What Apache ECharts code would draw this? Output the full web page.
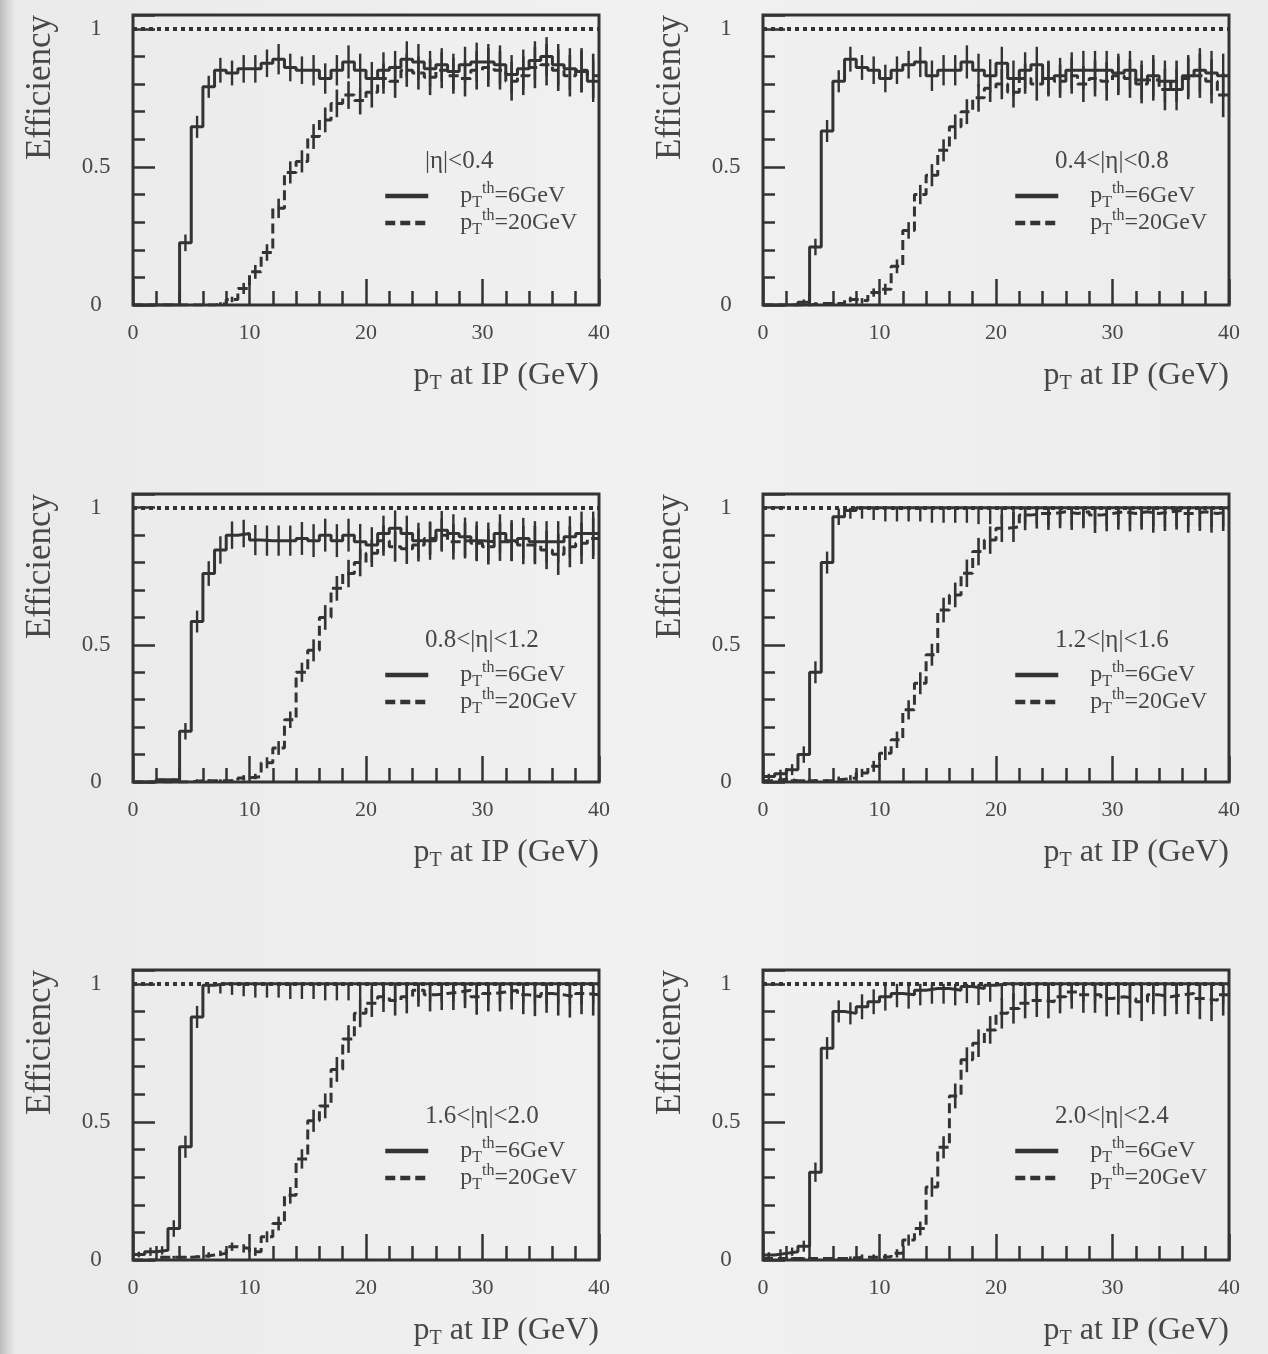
<!DOCTYPE html>
<html>
<head>
<meta charset="utf-8">
<script src="https://cdn.jsdelivr.net/npm/echarts@6/dist/echarts.min.js"></script>
<style>
html,body{margin:0;padding:0;background:#ededed;}
#chart{width:1268px;height:1354px;}
</style>
</head>
<body>
<div id="chart"></div>
<script>
// ---------------- DATA ----------------
const BIN_EDGES = [0,1,2,3,4,5,6,7,8,9,10,11,12,13,14,15,16,17,18,19,20,21,22,23,24,25,26,27,28,29,30,31,32,33,34,35,36,37,38,39,40];
const ETA_LABELS = ['|η|<0.4','0.4<|η|<0.8','0.8<|η|<1.2','1.2<|η|<1.6','1.6<|η|<2.0','2.0<|η|<2.4'];
const SERIES_NAMES = ['pTth=6GeV','pTth=20GeV'];
const LEGEND_SUFFIX = ['=6GeV','=20GeV'];
const REFERENCE_LEVEL = 1;
const Y_AXIS_TITLE = 'Efficiency';

// |eta|<0.4
const EFF6_ETA1  = [0,0,0,0,0.225,0.645,0.79,0.85,0.84,0.855,0.855,0.875,0.89,0.86,0.85,0.85,0.82,0.85,0.88,0.85,0.82,0.85,0.86,0.89,0.88,0.855,0.87,0.845,0.87,0.88,0.88,0.87,0.835,0.855,0.885,0.9,0.87,0.855,0.845,0.81];
const EFF20_ETA1 = [0,0,0,0,0,0,0,0.005,0.02,0.06,0.12,0.19,0.35,0.48,0.52,0.61,0.67,0.73,0.76,0.74,0.77,0.82,0.81,0.85,0.84,0.825,0.85,0.83,0.82,0.85,0.86,0.85,0.81,0.83,0.86,0.87,0.85,0.83,0.85,0.83];
const ERR6_ETA1  = [0,0,0,0,0.03,0.04,0.04,0.045,0.045,0.05,0.05,0.05,0.055,0.05,0.05,0.055,0.055,0.055,0.06,0.06,0.06,0.065,0.06,0.065,0.065,0.065,0.06,0.065,0.065,0.07,0.065,0.07,0.07,0.07,0.07,0.07,0.075,0.075,0.075,0.075];
const ERR20_ETA1 = [0,0,0,0,0,0,0,0.005,0.01,0.02,0.025,0.03,0.035,0.04,0.04,0.045,0.045,0.05,0.05,0.05,0.055,0.055,0.06,0.06,0.06,0.065,0.065,0.065,0.065,0.07,0.07,0.07,0.07,0.07,0.075,0.075,0.075,0.075,0.08,0.08];

// 0.4<|eta|<0.8
const EFF6_ETA2  = [0,0,0,0.01,0.21,0.63,0.81,0.89,0.86,0.85,0.82,0.85,0.87,0.88,0.83,0.85,0.85,0.88,0.85,0.83,0.875,0.82,0.85,0.87,0.82,0.83,0.85,0.85,0.85,0.85,0.84,0.85,0.815,0.83,0.81,0.78,0.83,0.85,0.84,0.83];
const EFF20_ETA2 = [0,0,0,0,0.005,0.005,0.005,0.02,0.015,0.045,0.057,0.14,0.27,0.40,0.47,0.56,0.645,0.70,0.75,0.785,0.80,0.77,0.82,0.80,0.82,0.81,0.83,0.80,0.82,0.81,0.83,0.82,0.80,0.815,0.78,0.81,0.82,0.83,0.81,0.76];
const ERR6_ETA2  = [0,0,0,0.01,0.03,0.04,0.04,0.045,0.045,0.05,0.05,0.05,0.05,0.055,0.055,0.055,0.055,0.06,0.06,0.06,0.06,0.065,0.065,0.065,0.065,0.065,0.065,0.07,0.07,0.07,0.07,0.07,0.07,0.075,0.075,0.075,0.075,0.08,0.08,0.08];
const ERR20_ETA2 = [0,0,0,0,0.005,0.005,0.005,0.01,0.01,0.015,0.02,0.025,0.03,0.035,0.04,0.04,0.045,0.045,0.05,0.05,0.055,0.055,0.055,0.06,0.06,0.06,0.065,0.065,0.065,0.07,0.07,0.07,0.07,0.075,0.075,0.075,0.075,0.08,0.08,0.08];

// 0.8<|eta|<1.2
const EFF6_ETA3  = [0,0,0.008,0.008,0.185,0.585,0.76,0.846,0.90,0.906,0.882,0.88,0.88,0.88,0.888,0.88,0.90,0.88,0.90,0.876,0.864,0.906,0.925,0.906,0.88,0.88,0.918,0.906,0.894,0.88,0.876,0.906,0.88,0.888,0.876,0.876,0.876,0.894,0.906,0.906];
const EFF20_ETA3 = [0,0,0,0,0,0.005,0.005,0.005,0.005,0.015,0.02,0.07,0.124,0.227,0.40,0.48,0.60,0.706,0.76,0.80,0.834,0.88,0.858,0.85,0.864,0.888,0.90,0.876,0.88,0.87,0.858,0.876,0.876,0.864,0.864,0.846,0.83,0.858,0.87,0.888];
const ERR6_ETA3  = [0,0,0.005,0.005,0.03,0.04,0.045,0.05,0.05,0.05,0.055,0.055,0.055,0.055,0.06,0.06,0.06,0.06,0.06,0.065,0.065,0.065,0.065,0.065,0.065,0.07,0.07,0.07,0.07,0.07,0.07,0.07,0.075,0.075,0.075,0.075,0.075,0.075,0.08,0.08];
const ERR20_ETA3 = [0,0,0,0,0,0.005,0.005,0.005,0.005,0.01,0.01,0.02,0.025,0.03,0.035,0.04,0.045,0.045,0.05,0.05,0.05,0.055,0.055,0.055,0.06,0.06,0.06,0.065,0.065,0.065,0.065,0.07,0.07,0.07,0.07,0.07,0.075,0.075,0.075,0.075];

// 1.2<|eta|<1.6
const EFF6_ETA4  = [0.02,0.03,0.045,0.10,0.40,0.80,0.967,0.99,1,1,1,1,1,1,1,1,1,1,1,1,1,1,1,1,1,1,1,1,1,1,1,1,1,1,1,1,1,1,1,1];
const EFF20_ETA4 = [0.005,0.01,0.005,0.005,0.005,0.005,0.01,0.015,0.033,0.057,0.105,0.154,0.263,0.36,0.464,0.627,0.682,0.761,0.84,0.882,0.925,0.93,0.973,0.979,0.979,0.985,0.979,0.985,0.973,0.979,0.985,0.979,0.985,0.979,0.985,0.99,0.979,0.985,0.979,0.985];
const ERR6_ETA4  = [0.01,0.015,0.02,0.03,0.04,0.04,0.03,0.03,0.04,0.045,0.05,0.05,0.05,0.05,0.055,0.055,0.055,0.055,0.06,0.06,0.06,0.06,0.06,0.06,0.065,0.065,0.065,0.065,0.065,0.065,0.065,0.065,0.07,0.07,0.07,0.07,0.07,0.07,0.07,0.07];
const ERR20_ETA4 = [0.005,0.01,0.005,0.005,0.005,0.005,0.01,0.01,0.015,0.02,0.025,0.03,0.035,0.04,0.04,0.045,0.045,0.05,0.05,0.05,0.05,0.055,0.055,0.055,0.06,0.06,0.06,0.06,0.065,0.065,0.065,0.065,0.065,0.07,0.07,0.07,0.07,0.07,0.07,0.07];

// 1.6<|eta|<2.0
const EFF6_ETA5  = [0.02,0.03,0.035,0.114,0.41,0.88,0.995,1,1,1,1,1,1,1,1,1,1,1,1,1,1,1,1,1,1,1,1,1,1,1,1,1,1,1,1,1,1,1,1,1];
const EFF20_ETA5 = [0,0,0.01,0.01,0.01,0.012,0.018,0.024,0.048,0.042,0.03,0.084,0.132,0.234,0.366,0.504,0.558,0.69,0.80,0.893,0.93,0.953,0.94,0.953,0.977,0.96,0.965,0.97,0.977,0.953,0.965,0.97,0.977,0.96,0.953,0.965,0.96,0.953,0.965,0.96];
const ERR6_ETA5  = [0.01,0.015,0.015,0.03,0.04,0.04,0.03,0.035,0.04,0.045,0.05,0.05,0.05,0.055,0.055,0.055,0.06,0.06,0.06,0.06,0.06,0.065,0.065,0.065,0.065,0.065,0.065,0.065,0.07,0.07,0.07,0.07,0.07,0.07,0.07,0.075,0.075,0.075,0.075,0.075];
const ERR20_ETA5 = [0,0,0.005,0.005,0.005,0.005,0.01,0.01,0.015,0.015,0.015,0.02,0.025,0.03,0.035,0.04,0.045,0.045,0.05,0.05,0.05,0.055,0.055,0.06,0.06,0.06,0.06,0.065,0.065,0.065,0.065,0.07,0.07,0.07,0.07,0.07,0.075,0.075,0.075,0.075];

// 2.0<|eta|<2.4
const EFF6_ETA6  = [0.018,0.024,0.03,0.05,0.318,0.767,0.90,0.893,0.917,0.935,0.953,0.965,0.96,0.977,0.983,0.983,0.977,0.99,0.983,0.995,1,1,1,1,1,1,1,1,1,1,1,1,1,1,1,1,1,1,1,1];
const EFF20_ETA6 = [0.005,0.005,0.005,0.005,0.005,0.005,0.005,0.008,0.01,0.01,0.012,0.024,0.072,0.114,0.264,0.408,0.594,0.725,0.785,0.833,0.893,0.911,0.93,0.94,0.935,0.953,0.97,0.96,0.96,0.947,0.953,0.947,0.935,0.96,0.953,0.96,0.965,0.947,0.94,0.96];
const ERR6_ETA6  = [0.01,0.015,0.015,0.02,0.035,0.04,0.04,0.04,0.045,0.045,0.05,0.05,0.05,0.055,0.055,0.055,0.055,0.06,0.06,0.06,0.06,0.06,0.065,0.065,0.065,0.065,0.065,0.065,0.07,0.07,0.07,0.07,0.07,0.07,0.07,0.075,0.075,0.075,0.075,0.075];
const ERR20_ETA6 = [0.005,0.005,0.005,0.005,0.005,0.005,0.005,0.005,0.01,0.01,0.01,0.015,0.02,0.025,0.035,0.04,0.045,0.045,0.05,0.05,0.055,0.055,0.055,0.06,0.06,0.06,0.06,0.065,0.065,0.065,0.065,0.07,0.07,0.07,0.07,0.07,0.075,0.075,0.075,0.075];

const EFF6  = [EFF6_ETA1, EFF6_ETA2, EFF6_ETA3, EFF6_ETA4, EFF6_ETA5, EFF6_ETA6];
const EFF20 = [EFF20_ETA1, EFF20_ETA2, EFF20_ETA3, EFF20_ETA4, EFF20_ETA5, EFF20_ETA6];
const ERR6  = [ERR6_ETA1, ERR6_ETA2, ERR6_ETA3, ERR6_ETA4, ERR6_ETA5, ERR6_ETA6];
const ERR20 = [ERR20_ETA1, ERR20_ETA2, ERR20_ETA3, ERR20_ETA4, ERR20_ETA5, ERR20_ETA6];

// ---------------- LAYOUT / STYLE ----------------
const COLS = [133, 763];
const ROWS = [15, 494, 970];
const PH = [290, 288, 290];
const PW = 466;
const INK = '#333333';
const TXT = '#474747';
const FONT = '"Liberation Serif","Times New Roman","DejaVu Serif",serif';

function stepData(vals) {
  return BIN_EDGES.map((x, i) => [x, vals[Math.min(i, vals.length - 1)]]);
}
function errData(vals, errs) {
  const out = [];
  vals.forEach((v, i) => {
    if (errs[i] > 0) {
      out.push([(BIN_EDGES[i] + BIN_EDGES[i + 1]) / 2, Math.max(v - errs[i], 0), Math.min(v + errs[i], REFERENCE_LEVEL)]);
    }
  });
  return out;
}
function errRenderer(width) {
  return function (params, api) {
    const a = api.coord([api.value(0), api.value(1)]);
    const b = api.coord([api.value(0), api.value(2)]);
    return { type: 'line', shape: { x1: a[0], y1: a[1], x2: b[0], y2: b[1] },
             style: { stroke: INK, lineWidth: width } };
  };
}

const legendRich = {
  p: { fontSize: 24, fontFamily: FONT, color: TXT, padding: [0, 0, 0, 27] },
  s: { fontSize: 16, fontFamily: FONT, color: TXT, padding: [14, 0, 0, 0] },
  u: { fontSize: 16, fontFamily: FONT, color: TXT, padding: [0, 0, 14, 0] },
  n: { fontSize: 24, fontFamily: FONT, color: TXT }
};
const titleRich = {
  p: { fontSize: 32, fontFamily: FONT, color: TXT },
  s: { fontSize: 20, fontFamily: FONT, color: TXT, padding: [16, 0, 0, 0] },
  n: { fontSize: 32, fontFamily: FONT, color: TXT }
};

const grid = [], xAxis = [], yAxis = [], series = [], legend = [];
const graphic = [{
  type: 'rect', z: -100, silent: true,
  shape: { x: 0, y: 0, width: 1268, height: 1354 },
  style: { fill: new echarts.graphic.LinearGradient(0, 0, 1, 0, [
    { offset: 0, color: '#bcbcbc' }, { offset: 0.006, color: '#d6d6d6' },
    { offset: 0.012, color: '#eaeaea' }, { offset: 0.5, color: '#f1f1f1' },
    { offset: 1, color: '#ececec' }]) }
}];

for (let p = 0; p < 6; p++) {
  const L = COLS[p % 2], T = ROWS[Math.floor(p / 2)], H = PH[Math.floor(p / 2)];
  const yi = 2 * p;
  grid.push({ left: L, top: T, width: PW, height: H, show: true, borderColor: INK, borderWidth: 3, backgroundColor: 'transparent' });
  xAxis.push({
    gridIndex: p, type: 'value', min: 0, max: 40, interval: 10,
    axisLine: { show: false },
    axisTick: { inside: true, length: 26, lineStyle: { color: INK, width: 2.5 } },
    minorTick: { show: true, splitNumber: 5, length: 14, lineStyle: { color: INK, width: 2.5 } },
    splitLine: { show: false },
    axisLabel: { margin: 17, color: TXT, fontFamily: FONT, fontSize: 22 },
    name: '{p|p}{s|T}{n| at IP (GeV)}',
    nameLocation: 'end', nameGap: 0,
    nameTextStyle: { align: 'right', verticalAlign: 'top', padding: [53, 0, 0, 0], rich: titleRich }
  });
  yAxis.push({
    gridIndex: p, type: 'value', min: 0, max: 1.05, interval: 0.5, position: 'left',
    axisLine: { show: false },
    axisTick: { inside: true, length: 22, lineStyle: { color: INK, width: 2.5 } },
    splitLine: { show: false },
    axisLabel: { align: 'center', margin: 37, color: TXT, fontFamily: FONT, fontSize: 23,
      formatter: v => (Math.abs(v * 2 - Math.round(v * 2)) < 1e-9 ? String(v) : '') }
  });
  yAxis.push({
    gridIndex: p, type: 'value', min: 0, max: 1.05, interval: 0.1, position: 'left',
    axisLine: { show: false },
    axisTick: { inside: true, length: 12, lineStyle: { color: INK, width: 2.5 } },
    splitLine: { show: false }, axisLabel: { show: false }
  });

  series.push({
    type: 'line', name: SERIES_NAMES[1], xAxisIndex: p, yAxisIndex: yi,
    data: stepData(EFF20[p]), step: 'end', symbol: 'none', showSymbol: false,
    lineStyle: { color: INK, width: 3, type: [10, 5] }, itemStyle: { color: INK },
    silent: true, z: 2,
    markLine: { silent: true, symbol: ['none', 'none'], label: { show: false },
      lineStyle: { color: INK, width: 4, type: [4, 4] }, data: [{ yAxis: REFERENCE_LEVEL }] }
  });
  series.push({
    type: 'line', name: SERIES_NAMES[0], xAxisIndex: p, yAxisIndex: yi,
    data: stepData(EFF6[p]), step: 'end', symbol: 'none', showSymbol: false,
    lineStyle: { color: INK, width: 3, type: 'solid' }, itemStyle: { color: INK },
    silent: true, z: 3
  });
  series.push({
    type: 'custom', xAxisIndex: p, yAxisIndex: yi, silent: true, clip: true, z: 4,
    data: errData(EFF20[p], ERR20[p]), encode: { x: 0, y: [1, 2] }, renderItem: errRenderer(2.6)
  });
  series.push({
    type: 'custom', xAxisIndex: p, yAxisIndex: yi, silent: true, clip: true, z: 4,
    data: errData(EFF6[p], ERR6[p]), encode: { x: 0, y: [1, 2] }, renderItem: errRenderer(2.4)
  });

  [0, 1].forEach(k => {
    legend.push({
      data: [SERIES_NAMES[k]], left: L + 250, top: T + 166 + 27 * k, padding: 0,
      orient: 'vertical', itemWidth: 43, itemHeight: 30, selectedMode: false,
      lineStyle: { width: 4.5 },
      itemStyle: { color: 'rgba(0,0,0,0)', borderColor: 'rgba(0,0,0,0)', borderWidth: 0 },
      formatter: () => '{p|p}{s|T}{u|th}{n|' + LEGEND_SUFFIX[k] + '}',
      textStyle: { rich: legendRich }
    });
  });

  graphic.push({
    type: 'text', x: L - 92, y: T, rotation: Math.PI / 2, silent: true,
    style: { text: Y_AXIS_TITLE, fontSize: 35, fontFamily: FONT, fill: TXT,
      align: 'right', verticalAlign: 'middle', textAlign: 'right', textVerticalAlign: 'middle' }
  });
  graphic.push({
    type: 'text', x: L + 292, y: T + 146, silent: true,
    style: { text: ETA_LABELS[p], fontSize: 25, fontFamily: FONT, fill: TXT,
      align: 'left', verticalAlign: 'middle', textAlign: 'left', textVerticalAlign: 'middle' }
  });
}

const chart = echarts.init(document.getElementById('chart'), null, { renderer: 'canvas' });
chart.setOption({
  animation: false,
  backgroundColor: '#ededed',
  grid, xAxis, yAxis, series, legend, graphic
});
</script>
</body>
</html>
